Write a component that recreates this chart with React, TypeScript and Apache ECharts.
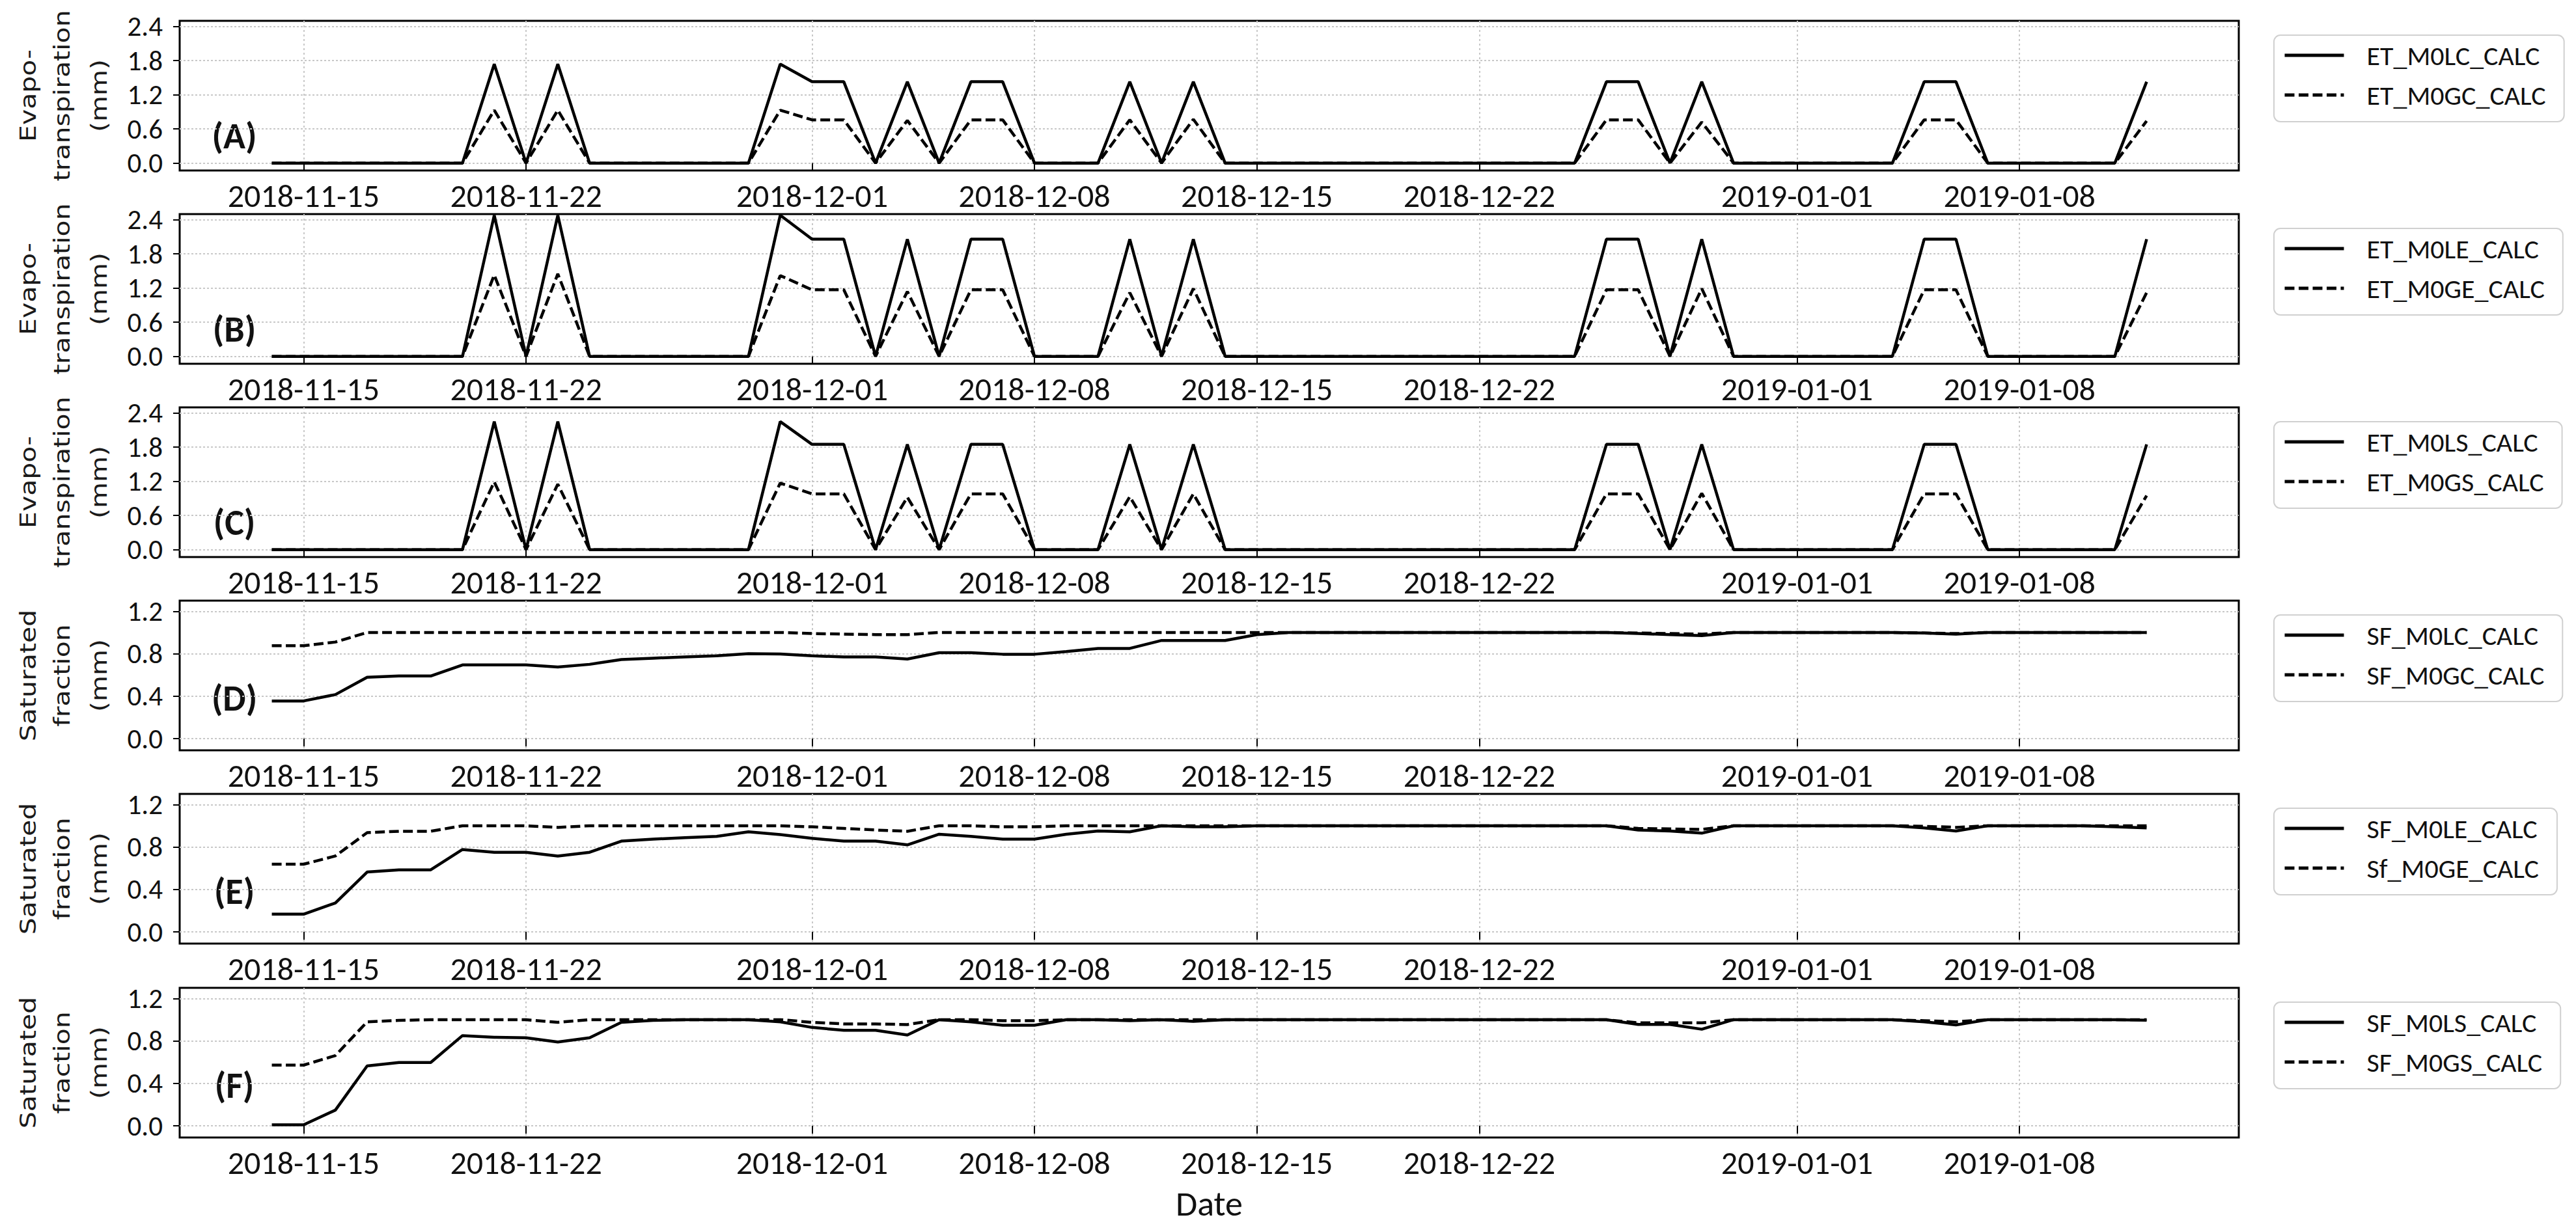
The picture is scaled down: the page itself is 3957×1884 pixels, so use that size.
import React, { useEffect, useRef } from 'react';
import * as echarts from 'echarts';

// ---------- data ----------
const dates = [
  '2018-11-14','2018-11-15','2018-11-16','2018-11-17','2018-11-18','2018-11-19','2018-11-20','2018-11-21','2018-11-22','2018-11-23',
  '2018-11-24','2018-11-25','2018-11-26','2018-11-27','2018-11-28','2018-11-29','2018-11-30','2018-12-01','2018-12-02','2018-12-03',
  '2018-12-04','2018-12-05','2018-12-06','2018-12-07','2018-12-08','2018-12-09','2018-12-10','2018-12-11','2018-12-12','2018-12-13',
  '2018-12-14','2018-12-15','2018-12-16','2018-12-17','2018-12-18','2018-12-19','2018-12-20','2018-12-21','2018-12-22','2018-12-23',
  '2018-12-24','2018-12-25','2018-12-26','2018-12-27','2018-12-28','2018-12-29','2018-12-30','2018-12-31','2019-01-01','2019-01-02',
  '2019-01-03','2019-01-04','2019-01-05','2019-01-06','2019-01-07','2019-01-08','2019-01-09','2019-01-10','2019-01-11','2019-01-12',
];

const etM0LC = [
  0, 0, 0, 0, 0, 0, 0, 1.74, 0, 1.74,
  0, 0, 0, 0, 0, 0, 1.74, 1.43, 1.43, 0,
  1.43, 0, 1.43, 1.43, 0, 0, 0, 1.43, 0, 1.43,
  0, 0, 0, 0, 0, 0, 0, 0, 0, 0,
  0, 0, 1.43, 1.43, 0, 1.43, 0, 0, 0, 0,
  0, 0, 1.43, 1.43, 0, 0, 0, 0, 0, 1.43,
];
const etM0GC = [
  0, 0, 0, 0, 0, 0, 0, 0.93, 0, 0.93,
  0, 0, 0, 0, 0, 0, 0.93, 0.76, 0.76, 0,
  0.75, 0, 0.76, 0.76, 0, 0, 0, 0.76, 0, 0.77,
  0, 0, 0, 0, 0, 0, 0, 0, 0, 0,
  0, 0, 0.76, 0.76, 0, 0.72, 0, 0, 0, 0,
  0, 0, 0.76, 0.76, 0, 0, 0, 0, 0, 0.74,
];
const etM0LE = [
  0, 0, 0, 0, 0, 0, 0, 2.48, 0, 2.48,
  0, 0, 0, 0, 0, 0, 2.48, 2.06, 2.06, 0,
  2.06, 0, 2.06, 2.06, 0, 0, 0, 2.06, 0, 2.06,
  0, 0, 0, 0, 0, 0, 0, 0, 0, 0,
  0, 0, 2.06, 2.06, 0, 2.06, 0, 0, 0, 0,
  0, 0, 2.06, 2.06, 0, 0, 0, 0, 0, 2.06,
];
const etM0GE = [
  0, 0, 0, 0, 0, 0, 0, 1.43, 0, 1.45,
  0, 0, 0, 0, 0, 0, 1.42, 1.17, 1.17, 0,
  1.14, 0, 1.17, 1.17, 0, 0, 0, 1.12, 0, 1.19,
  0, 0, 0, 0, 0, 0, 0, 0, 0, 0,
  0, 0, 1.17, 1.17, 0, 1.19, 0, 0, 0, 0,
  0, 0, 1.17, 1.17, 0, 0, 0, 0, 0, 1.12,
];
const etM0LS = [
  0, 0, 0, 0, 0, 0, 0, 2.25, 0, 2.25,
  0, 0, 0, 0, 0, 0, 2.25, 1.85, 1.85, 0,
  1.85, 0, 1.85, 1.85, 0, 0, 0, 1.85, 0, 1.85,
  0, 0, 0, 0, 0, 0, 0, 0, 0, 0,
  0, 0, 1.85, 1.85, 0, 1.85, 0, 0, 0, 0,
  0, 0, 1.85, 1.85, 0, 0, 0, 0, 0, 1.85,
];
const etM0GS = [
  0, 0, 0, 0, 0, 0, 0, 1.19, 0, 1.15,
  0, 0, 0, 0, 0, 0, 1.17, 0.98, 0.98, 0,
  0.92, 0, 0.98, 0.98, 0, 0, 0, 0.93, 0, 0.98,
  0, 0, 0, 0, 0, 0, 0, 0, 0, 0,
  0, 0, 0.98, 0.98, 0, 0.99, 0, 0, 0, 0,
  0, 0, 0.98, 0.98, 0, 0, 0, 0, 0, 0.95,
];

const sfM0LC = [
  0.355, 0.355, 0.415, 0.578, 0.59, 0.59, 0.694, 0.694, 0.694, 0.675,
  0.70, 0.745, 0.758, 0.77, 0.78, 0.80, 0.797, 0.78, 0.77, 0.77,
  0.75, 0.81, 0.81, 0.795, 0.795, 0.82, 0.85, 0.85, 0.925, 0.925,
  0.925, 0.98, 1.0, 1.0, 1.0, 1.0, 1.0, 1.0, 1.0, 1.0,
  1.0, 1.0, 1.0, 0.99, 0.98, 0.97, 1.0, 1.0, 1.0, 1.0,
  1.0, 1.0, 0.995, 0.985, 1.0, 1.0, 1.0, 1.0, 1.0, 1.0,
];
const sfM0GC = [
  0.875, 0.875, 0.91, 1.0, 1.0, 1.0, 1.0, 1.0, 1.0, 1.0,
  1.0, 1.0, 1.0, 1.0, 1.0, 1.0, 1.0, 0.99, 0.985, 0.98,
  0.98, 1.0, 1.0, 1.0, 1.0, 1.0, 1.0, 1.0, 1.0, 1.0,
  1.0, 1.0, 1.0, 1.0, 1.0, 1.0, 1.0, 1.0, 1.0, 1.0,
  1.0, 1.0, 1.0, 0.995, 0.99, 0.985, 1.0, 1.0, 1.0, 1.0,
  1.0, 1.0, 0.995, 0.99, 1.0, 1.0, 1.0, 1.0, 1.0, 1.0,
];
const sfM0LE = [
  0.167, 0.167, 0.273, 0.564, 0.585, 0.585, 0.776, 0.75, 0.75, 0.715,
  0.75, 0.855, 0.874, 0.887, 0.90, 0.943, 0.917, 0.882, 0.855, 0.855,
  0.82, 0.92, 0.90, 0.874, 0.874, 0.92, 0.95, 0.943, 1.0, 0.99,
  0.99, 1.0, 1.0, 1.0, 1.0, 1.0, 1.0, 1.0, 1.0, 1.0,
  1.0, 1.0, 1.0, 0.96, 0.95, 0.93, 1.0, 1.0, 1.0, 1.0,
  1.0, 1.0, 0.98, 0.95, 1.0, 1.0, 1.0, 1.0, 0.99, 0.98,
];
const sfM0GE = [
  0.638, 0.638, 0.715, 0.935, 0.948, 0.948, 1.0, 1.0, 1.0, 0.985,
  1.0, 1.0, 1.0, 1.0, 1.0, 1.0, 1.0, 0.99, 0.975, 0.96,
  0.948, 1.0, 1.0, 0.99, 0.99, 1.0, 1.0, 1.0, 1.0, 1.0,
  1.0, 1.0, 1.0, 1.0, 1.0, 1.0, 1.0, 1.0, 1.0, 1.0,
  1.0, 1.0, 1.0, 0.975, 0.97, 0.965, 1.0, 1.0, 1.0, 1.0,
  1.0, 1.0, 0.995, 0.985, 1.0, 1.0, 1.0, 1.0, 1.0, 1.0,
];
const sfM0LS = [
  0.01, 0.01, 0.148, 0.564, 0.596, 0.596, 0.85, 0.834, 0.83, 0.79,
  0.83, 0.975, 0.993, 1.0, 1.0, 1.0, 0.98, 0.927, 0.90, 0.90,
  0.856, 1.0, 0.98, 0.948, 0.948, 1.0, 1.0, 0.99, 1.0, 0.985,
  1.0, 1.0, 1.0, 1.0, 1.0, 1.0, 1.0, 1.0, 1.0, 1.0,
  1.0, 1.0, 1.0, 0.955, 0.955, 0.91, 1.0, 1.0, 1.0, 1.0,
  1.0, 1.0, 0.98, 0.95, 1.0, 1.0, 1.0, 1.0, 1.0, 0.995,
];
const sfM0GS = [
  0.572, 0.572, 0.662, 0.98, 0.993, 1.0, 1.0, 1.0, 1.0, 0.975,
  1.0, 1.0, 1.0, 1.0, 1.0, 1.0, 1.0, 0.975, 0.96, 0.96,
  0.954, 1.0, 1.0, 0.99, 0.99, 1.0, 1.0, 1.0, 1.0, 1.0,
  1.0, 1.0, 1.0, 1.0, 1.0, 1.0, 1.0, 1.0, 1.0, 1.0,
  1.0, 1.0, 1.0, 0.97, 0.97, 0.97, 1.0, 1.0, 1.0, 1.0,
  1.0, 1.0, 0.99, 0.98, 1.0, 1.0, 1.0, 1.0, 1.0, 1.0,
];

const xTickDates = ['2018-11-15', '2018-11-22', '2018-12-01', '2018-12-08', '2018-12-15', '2018-12-22', '2019-01-01', '2019-01-08'];
const etTicks = [0, 0.6, 1.2, 1.8, 2.4];
const sfTicks = [0, 0.4, 0.8, 1.2];

const panelTags = ['(A)', '(B)', '(C)', '(D)', '(E)', '(F)'];
const solidNames = ['ET_M0LC_CALC', 'ET_M0LE_CALC', 'ET_M0LS_CALC', 'SF_M0LC_CALC', 'SF_M0LE_CALC', 'SF_M0LS_CALC'];
const dashedNames = ['ET_M0GC_CALC', 'ET_M0GE_CALC', 'ET_M0GS_CALC', 'SF_M0GC_CALC', 'Sf_M0GE_CALC', 'SF_M0GS_CALC'];
const solidData = [etM0LC, etM0LE, etM0LS, sfM0LC, sfM0LE, sfM0LS];
const dashedData = [etM0GC, etM0GE, etM0GS, sfM0GC, sfM0GE, sfM0GS];
const etTitleLines = ['Evapo-', 'transpiration', '(mm)'];
const sfTitleLines = ['Saturated', 'fraction', '(mm)'];

// ---------- layout / style ----------
const W = 3957;
const H = 1884;
const GRID_LEFT = 276;
const GRID_WIDTH = 3163;
const GRID_H = 230;
const GRID_TOPS = [32, 329, 626, 923, 1220, 1518];
const TITLE_X = [44, 96, 153];
const FONT = "Carlito, 'Liberation Sans Narrow', 'Liberation Sans', sans-serif";
const DAY = 86400000;

function fmtDate(v: number): string {
  const d = new Date(v);
  const m = String(d.getUTCMonth() + 1).padStart(2, '0');
  const dd = String(d.getUTCDate()).padStart(2, '0');
  return `${d.getUTCFullYear()}-${m}-${dd}`;
}

export default function App() {
  const ref = useRef<HTMLDivElement>(null);

  useEffect(() => {
    if (!ref.current) return;
    const chart = echarts.init(ref.current, undefined, { renderer: 'svg', width: W, height: H });

    const ts = dates.map((d) => Date.parse(d));
    const xTicks = xTickDates.map((d) => Date.parse(d));
    const xMin = ts[0] - 2.9 * DAY;
    const xMax = ts[ts.length - 1] + 2.9 * DAY;

    const grids: any[] = [];
    const xAxes: any[] = [];
    const yAxes: any[] = [];
    const series: any[] = [];
    const legends: any[] = [];
    const graphics: any[] = [];

    for (let i = 0; i < 6; i++) {
      const isET = i < 3;
      const top = GRID_TOPS[i];
      grids.push({
        left: GRID_LEFT,
        top,
        width: GRID_WIDTH,
        height: GRID_H,
        show: true,
        borderColor: '#000',
        borderWidth: 3,
        backgroundColor: 'transparent',
        containLabel: false,
      });
      xAxes.push({
        type: 'value',
        gridIndex: i,
        min: xMin,
        max: xMax,
        scale: true,
        axisLine: { show: false },
        axisTick: { show: true, length: 12, lineStyle: { color: '#000', width: 2 }, customValues: xTicks },
        axisLabel: {
          show: true,
          customValues: xTicks,
          formatter: (v: number) => fmtDate(v),
          fontFamily: FONT,
          fontSize: 50,
          color: '#111',
          margin: 13,
          hideOverlap: false,
        },
        splitLine: { show: true, lineStyle: { color: '#c8c8c8', width: 2, type: [3, 4] } },
        name: i === 5 ? 'Date' : '',
        nameLocation: 'middle',
        nameGap: 75,
        nameTextStyle: { fontFamily: FONT, fontSize: 54, color: '#111' },
      });
      yAxes.push({
        type: 'value',
        gridIndex: i,
        min: isET ? -0.13 : -0.11,
        max: isET ? 2.5 : 1.3,
        axisLine: { show: false },
        axisTick: { show: true, length: 10, lineStyle: { color: '#000', width: 2 }, customValues: isET ? etTicks : sfTicks },
        axisLabel: {
          show: true,
          customValues: isET ? etTicks : sfTicks,
          formatter: (v: number) => Number(v).toFixed(1),
          fontFamily: FONT,
          fontSize: 43,
          lineHeight: 44,
          color: '#111',
          margin: 26,
        },
        splitLine: { show: true, lineStyle: { color: '#c8c8c8', width: 2, type: [3, 3] } },
      });
      series.push({
        name: solidNames[i],
        type: 'line',
        xAxisIndex: i,
        yAxisIndex: i,
        symbol: 'none',
        data: ts.map((t, k) => [t, solidData[i][k]]),
        lineStyle: { color: '#000', width: 4.5, type: 'solid' },
        itemStyle: { color: '#000' },
      });
      series.push({
        name: dashedNames[i],
        type: 'line',
        xAxisIndex: i,
        yAxisIndex: i,
        symbol: 'none',
        data: ts.map((t, k) => [t, dashedData[i][k]]),
        lineStyle: { color: '#000', width: 4.5, type: [15, 6.5] },
        itemStyle: { color: '#000' },
      });
      legends.push({
        orient: 'vertical',
        left: 3493,
        top: top + 22,
        data: [solidNames[i], dashedNames[i]],
        itemWidth: 91,
        itemHeight: 2,
        itemGap: 13,
        padding: [7, 28, 17, 14],
        backgroundColor: '#fff',
        borderColor: '#d0d0d0',
        borderWidth: 2,
        borderRadius: 10,
        selectedMode: false,
        itemStyle: { color: 'transparent', borderWidth: 0, opacity: 0 },
        lineStyle: { width: 5, color: '#000' },
        textStyle: { fontFamily: FONT, fontSize: 42, lineHeight: 48, color: '#111', padding: [0, 0, 0, 30] },
      });
      graphics.push({
        type: 'text',
        x: 360,
        y: top + (isET ? 177 : 150),
        style: {
          text: panelTags[i],
          fontFamily: FONT,
          fontSize: 56,
          fontWeight: 'bold',
          fill: '#111',
          align: 'center',
          verticalAlign: 'middle',
        },
      });
      const lines = isET ? etTitleLines : sfTitleLines;
      lines.forEach((line, k) => {
        graphics.push({
          type: 'text',
          x: TITLE_X[k],
          y: top + GRID_H / 2,
          rotation: Math.PI / 2,
          scaleX: 1,
          scaleY: 0.8,
          style: {
            text: line,
            fontFamily: 'DejaVu Sans',
            fontSize: 41,
            fill: '#1a1a1a',
            align: 'center',
            verticalAlign: 'middle',
          },
        });
      });
    }

    chart.setOption({
      animation: false,
      backgroundColor: '#fff',
      grid: grids,
      xAxis: xAxes,
      yAxis: yAxes,
      series,
      legend: legends,
      graphic: graphics,
    });

    return () => chart.dispose();
  }, []);

  return (
    <div
      ref={ref}
      style={{ position: 'absolute', left: 0, top: 0, width: W, height: H, background: '#fff' }}
    />
  );
}
